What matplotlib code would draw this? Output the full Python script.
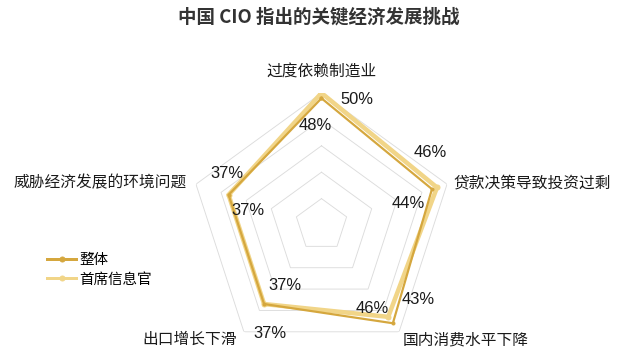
"""Radar chart: key economic development challenges named by China CIOs."""

import numpy as np
import matplotlib
matplotlib.use("Agg")
import matplotlib.pyplot as plt  # noqa: E402
from matplotlib.lines import Line2D  # noqa: E402

plt.rcParams["font.family"] = ["Noto Sans CJK SC", "DejaVu Sans"]

categories = ["过度依赖制造业", "贷款决策导致投资过剩", "国内消费水平下降",
              "出口增长下滑", "威胁经济发展的环境问题"]
series_names = ["整体", "首席信息官"]
overall = [0.48, 0.44, 0.46, 0.37, 0.37]
cio = [0.50, 0.46, 0.43, 0.37, 0.37]
ring_values = [0.1, 0.2, 0.3, 0.4, 0.5]

DARK = "#D5A73E"
LIGHT = "#F1D588"
GRID = "#DCDCDC"
TEXT = "#1a1a1a"

# label offsets in points (dpi=72 so 1pt = 1px)
cat_offsets = [(0, 21, "center"), (6, 0, "left"), (4, -8, "left"),
               (-7, -8, "right"), (-9, 1, "right")]
cio_offsets = [(35, -7), (-7, 35), (30, 17), (6, -29), (-2, 21)]
overall_offsets = [(-6, -27), (-24, -14), (-21, 15), (21, 19), (19, -16)]

fig = plt.figure(figsize=(627 / 72, 362 / 72), dpi=72)
ax = fig.add_axes([0.3022, 0.0138, 0.4211, 0.7293], projection="polar")
ax.set_theta_zero_location("N")
ax.set_theta_direction(-1)
ax.set_ylim(0, 0.5)
ax.axis("off")

n = len(categories)
theta = np.linspace(0, 2 * np.pi, n, endpoint=False)
closed = np.append(theta, theta[0])

for rv in ring_values:
    ax.plot(closed, [rv] * (n + 1), color=GRID, lw=0.9, zorder=1)

ax.plot(closed, cio + cio[:1], color=LIGHT, lw=4.5, marker="o", ms=5,
        solid_joinstyle="miter", zorder=2)
ax.plot(closed, overall + overall[:1], color=DARK, lw=2.2, marker="o", ms=3,
        solid_joinstyle="miter", zorder=3)

for t, name, (dx, dy, ha) in zip(theta, categories, cat_offsets):
    ax.annotate(name, (t, 0.5), xytext=(dx, dy), textcoords="offset points",
                ha=ha, va="center", fontsize=15.7, color=TEXT,
                annotation_clip=False)

for vals, offs in ((cio, cio_offsets), (overall, overall_offsets)):
    for t, v, (dx, dy) in zip(theta, vals, offs):
        ax.annotate(f"{v * 100:.0f}%", (t, v), xytext=(dx, dy),
                    textcoords="offset points", ha="center", va="center",
                    fontsize=16.5, color=TEXT, family="Liberation Sans",
                    annotation_clip=False, zorder=5)

handles = [Line2D([], [], color=DARK, lw=3, marker="o", ms=5),
           Line2D([], [], color=LIGHT, lw=3, marker="o", ms=5)]
fig.legend(handles, series_names,
           loc="upper left", bbox_to_anchor=(0.075, 0.302), frameon=False,
           fontsize=14.5, handlelength=2.0, handletextpad=0.2,
           labelspacing=0.4, borderpad=0, borderaxespad=0)

fig.text(0.508, 0.952, "中国 CIO 指出的关键经济发展挑战", ha="center",
         va="center", fontsize=18.5, fontweight="bold", color="#333333")

fig.savefig("out.png", dpi=72)
